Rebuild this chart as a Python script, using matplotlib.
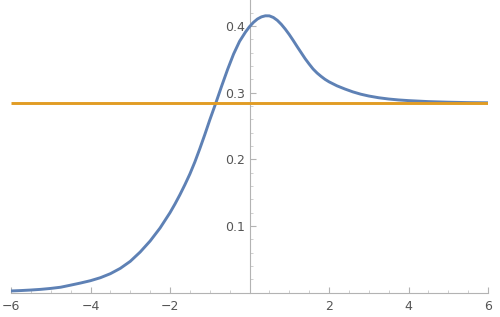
import matplotlib
matplotlib.use("Agg")
import matplotlib.pyplot as plt
from matplotlib.ticker import MultipleLocator

# values
x_vals = [-6.0, -5.75, -5.5, -5.25, -5.0, -4.75, -4.5, -4.25, -4.0, -3.75,
          -3.5, -3.25, -3.0, -2.75, -2.5, -2.25, -2.0, -1.875, -1.75, -1.625,
          -1.5, -1.375, -1.25, -1.125, -1.0, -0.85, -0.7, -0.55, -0.4, -0.25,
          -0.1, 0.0, 0.1, 0.2, 0.3, 0.4, 0.5, 0.6, 0.7, 0.8, 0.9, 1.0, 1.1,
          1.2, 1.3, 1.4, 1.5, 1.6, 1.7, 1.8, 1.9, 2.0, 2.2, 2.4, 2.6, 2.8, 3.0,
          3.25, 3.5, 3.75, 4.0, 4.5, 5.0, 5.5, 6.0]
y_vals = [0.0026, 0.0032, 0.004, 0.005, 0.0064, 0.0082, 0.0113, 0.0145,
          0.018, 0.0225, 0.0285, 0.0365, 0.047, 0.061, 0.0775, 0.097, 0.120,
          0.133, 0.147, 0.162, 0.178, 0.196, 0.216, 0.237, 0.259, 0.284,
          0.310, 0.335, 0.358, 0.377, 0.391, 0.399, 0.4055, 0.4105, 0.4137,
          0.4153, 0.4152, 0.4128, 0.4085, 0.4025, 0.3953, 0.3872, 0.3783,
          0.369, 0.360, 0.351, 0.343, 0.3355, 0.3295, 0.3245, 0.320, 0.3163,
          0.3103, 0.3055, 0.3012, 0.2977, 0.295, 0.2924, 0.2905, 0.2891,
          0.2881, 0.2866, 0.2857, 0.2851, 0.2848]
level = 0.2843
x_range = [-6, 6]

blue = "#5E81B5"
orange = "#E19C24"

fig = plt.figure(figsize=(5, 3.17), dpi=100)
ax = fig.add_axes([0.022, 0.0767, 0.954, 0.9233])

ax.plot(x_vals, y_vals, color=blue, lw=2.1, solid_capstyle="butt",
        solid_joinstyle="round", zorder=3)
ax.plot(x_range, [level, level], color=orange, lw=2.1, solid_capstyle="butt", zorder=4)

ax.set_xlim(-6, 6)
ax.set_ylim(0, 0.439)

# axes crossing at the origin, Mathematica style
ax.spines["left"].set_position(("data", 0))
ax.spines["bottom"].set_position(("data", 0))
ax.spines["top"].set_visible(False)
ax.spines["right"].set_visible(False)
for s in ("left", "bottom"):
    ax.spines[s].set_color("#b3b3b3")
    ax.spines[s].set_linewidth(0.8)

ax.xaxis.set_minor_locator(MultipleLocator(0.5))
ax.yaxis.set_minor_locator(MultipleLocator(0.02))
ax.set_xticks([-6, -4, -2, 2, 4, 6])
ax.set_xticklabels(["\u22126", "\u22124", "\u22122", "2", "4", "6"])
ax.set_yticks([0.1, 0.2, 0.3, 0.4])
ax.set_yticklabels(["0.1", "0.2", "0.3", "0.4"])

ax.tick_params(axis="x", which="major", direction="in", length=4, width=0.8,
               color="#b3b3b3", labelsize=9, labelcolor="#555555", pad=5)
ax.tick_params(axis="x", which="minor", direction="in", length=2.5, width=0.6,
               color="#c8c8c8")
ax.tick_params(axis="y", which="major", direction="in", length=4, width=0.8,
               color="#b3b3b3", labelsize=9, labelcolor="#555555", pad=3)
ax.tick_params(axis="y", which="minor", direction="in", length=2.5, width=0.6,
               color="#c8c8c8")

fig.savefig("out.png", dpi=100)
